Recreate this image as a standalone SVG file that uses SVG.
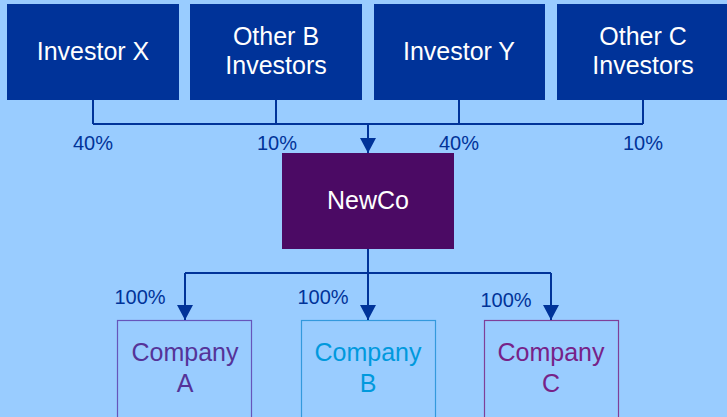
<svg xmlns="http://www.w3.org/2000/svg" width="727" height="417" viewBox="0 0 727 417">
<style>
.inv{fill:#003399;}
.wt{fill:#ffffff;font-family:"Liberation Sans",Arial,sans-serif;font-size:25px;text-anchor:middle;}
.pct{fill:#003399;font-family:"Liberation Sans",Arial,sans-serif;font-size:20px;text-anchor:middle;}
.ln{fill:none;stroke:#003399;stroke-width:2;}
.co{font-family:"Liberation Sans",Arial,sans-serif;font-size:25px;text-anchor:middle;}
</style>
<defs>
<marker id="arr" markerUnits="userSpaceOnUse" markerWidth="16" markerHeight="16" viewBox="0 0 16 16" refX="8" refY="16" orient="0">
<path d="M0,1 L16,1 L8,16 Z" fill="#003399"/>
</marker>
</defs>
<rect x="0" y="0" width="727" height="417" fill="#99CCFF"/>
<g id="investor-x"><rect class="inv" x="7" y="4" width="172" height="96"/><text class="wt" x="93" y="60">Investor X</text></g>
<g id="other-b"><rect class="inv" x="190" y="4" width="172" height="96"/><text class="wt" x="276" y="45">Other B</text><text class="wt" x="276" y="74">Investors</text></g>
<g id="investor-y"><rect class="inv" x="374" y="4" width="171" height="96"/><text class="wt" x="459" y="60">Investor Y</text></g>
<g id="other-c"><rect class="inv" x="557" y="4" width="170" height="96"/><text class="wt" x="643" y="45">Other C</text><text class="wt" x="643" y="74">Investors</text></g>
<g id="newco"><rect x="282" y="153" width="172" height="96" fill="#4B0A64"/><text class="wt" x="368" y="209">NewCo</text></g>
<g id="company-a"><rect x="117.5" y="320.5" width="134" height="100" fill="none" stroke="#6655BB" stroke-width="1.2"/><text class="co" x="185" y="361" fill="#553399">Company</text><text class="co" x="185" y="392" fill="#553399">A</text></g>
<g id="company-b"><rect x="301.5" y="320.5" width="134" height="100" fill="none" stroke="#3399DD" stroke-width="1.2"/><text class="co" x="368" y="361" fill="#0099DD">Company</text><text class="co" x="368" y="392" fill="#0099DD">B</text></g>
<g id="company-c"><rect x="484.5" y="320.5" width="134" height="100" fill="none" stroke="#7F3F98" stroke-width="1.2"/><text class="co" x="551" y="361" fill="#772288">Company</text><text class="co" x="551" y="392" fill="#772288">C</text></g>
<g id="connectors">
<path class="ln" d="M93,100 V124 M276,100 V124 M459,100 V124 M643,100 V124 M93,124 H643"/>
<path class="ln" d="M368,124 V153" marker-end="url(#arr)"/>
<path class="ln" d="M368,249 V320" marker-end="url(#arr)"/>
<path class="ln" d="M185,273 H551"/>
<path class="ln" d="M185,273 V320" marker-end="url(#arr)"/>
<path class="ln" d="M551,273 V320" marker-end="url(#arr)"/>
</g>
<g id="labels">
<text class="pct" x="93" y="150">40%</text>
<text class="pct" x="277" y="150">10%</text>
<text class="pct" x="459" y="150">40%</text>
<text class="pct" x="643" y="150">10%</text>
<text class="pct" x="140" y="304">100%</text>
<text class="pct" x="323" y="304">100%</text>
<text class="pct" x="506" y="307">100%</text>
</g>
</svg>
